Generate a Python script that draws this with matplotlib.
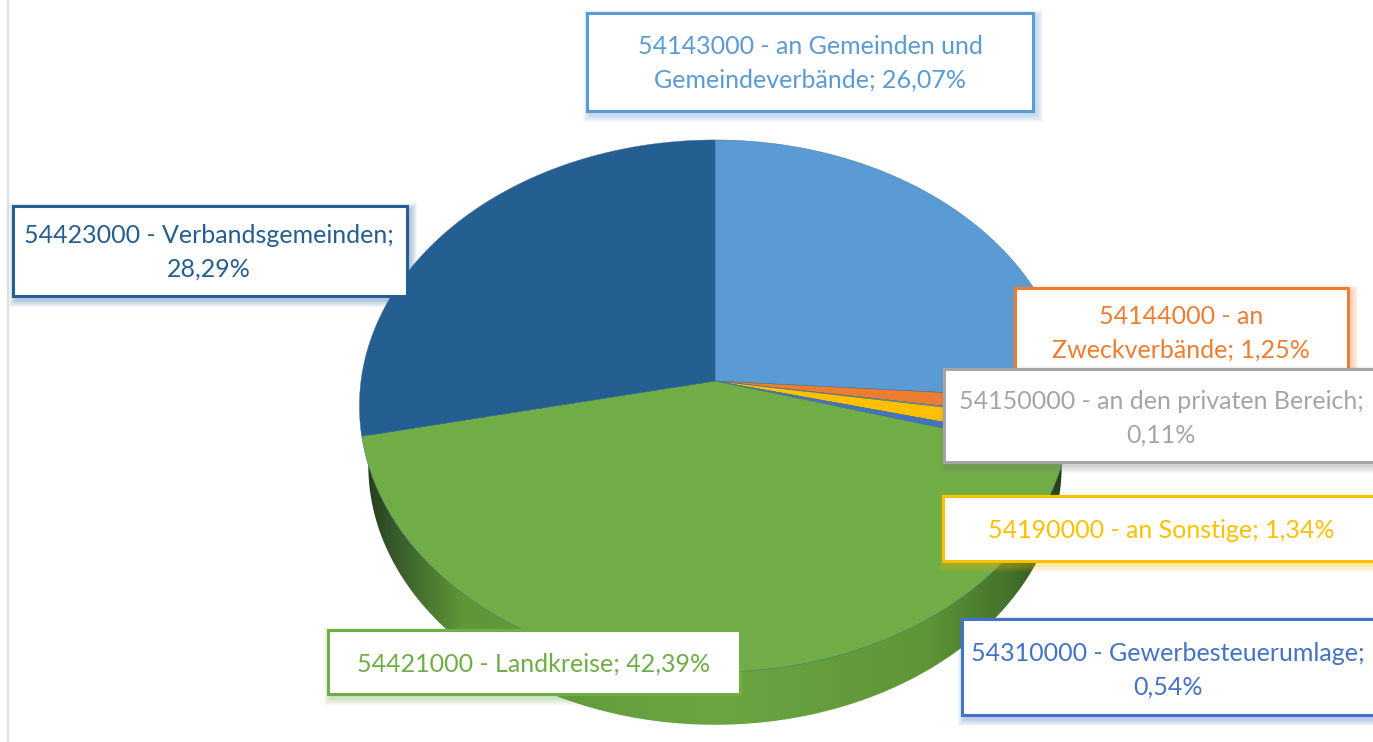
#!/usr/bin/env python3
# 3D looking pie chart with boxed labels, drawn on a pixel sized axes
import numpy as np
import matplotlib
matplotlib.use("Agg")
import matplotlib.pyplot as plt
from matplotlib.patches import Polygon, Rectangle
from matplotlib.colors import LinearSegmentedColormap

plt.rcParams['font.family'] = ['Lato', 'DejaVu Sans']

names = ["54143000 - an Gemeinden und\nGemeindeverbände", "54144000 - an\nZweckverbände",
         "54150000 - an den privaten Bereich", "54190000 - an Sonstige",
         "54310000 - Gewerbesteuerumlage", "54421000 - Landkreise", "54423000 - Verbandsgemeinden"]
values = [26.07, 1.25, 0.11, 1.34, 0.54, 42.39, 28.29]
seps = ["; ", "; ", ";\n", "; ", ";\n", "; ", ";\n"]
colors = ["#5B9BD5", "#ED7D31", "#A5A5A5", "#FFC000", "#4472C4", "#70AD47", "#255E91"]

# label boxes x0,y0,x1,y1 in pixels, and text centre
boxes = [(587, 13, 1033, 111), (1015, 288, 1348, 380), (944, 369, 1380, 462), (943, 496, 1380, 561),
         (962, 619, 1380, 715), (328, 630, 740, 694), (13, 206, 407, 296)]
text_pos = [(810, 63.5), (1181, 333.5), (1161, 418.5), (1161, 531), (1168, 670.5), (534, 664), (209, 252.5)]
draw_order = [0, 1, 2, 3, 4, 6, 5]

# perspective of the pie disc
cx, cy = 715, 381
rx, ry, persp = 354, 263.7, 0.094
depth, bottom_scale = 60, 0.975


def project(angle, radius=1.0, scale=1.0, dy=0.0):
    # angle in degrees clockwise from 12 o'clock
    a = np.radians(angle)
    u, v = radius*np.sin(a), radius*np.cos(a)
    w = 1+persp*v
    return np.column_stack((cx+scale*rx*u/w, cy-scale*ry*v/w+dy))


fig = plt.figure(figsize=(13.73, 7.42), dpi=100)
ax = fig.add_axes([0, 0, 1, 1])
ax.set_xlim(0, 1373)
ax.set_ylim(742, 0)
ax.axis('off')

# grey page rule at the left
ax.plot([8, 8], [0, 742], color="#DDDDDD", lw=1.6, zorder=1)

# side of the pie: horizontal gradient clipped to the lower disc
side_cmap = LinearSegmentedColormap.from_list("side", [
    (0.0, "#22391A"), (0.04, "#35572A"), (0.14, "#5F9638"), (0.5, "#6BA541"),
    (0.80, "#5F9638"), (0.92, "#44722C"), (1.0, "#22391A")])
full = np.linspace(0, 360, 721)
bottom = Polygon(project(full, scale=bottom_scale, dy=depth), closed=True, fc='none', ec='none')
ax.add_patch(bottom)
grad = ax.imshow(np.linspace(0, 1, 256)[None, :], cmap=side_cmap, aspect='auto',
                 extent=(362, 1068, 742, 380), zorder=2)
grad.set_clip_path(bottom)
ax.set_xlim(0, 1373)
ax.set_ylim(742, 0)

# top of the pie
start = 0.0
total = sum(values)
for val, col in zip(values, colors):
    stop = start+360*val/total
    arc = project(np.linspace(start, stop, max(int(val*8), 4)))
    ax.add_patch(Polygon(np.vstack(([cx, cy], arc)), closed=True, fc=col, ec="#3F6E8F", lw=0.3,
                         joinstyle='round', zorder=3))
    start = stop

# label boxes
for i in draw_order:
    x0, y0, x1, y1 = boxes[i]
    for grow in range(7, 0, -1):
        ax.add_patch(Rectangle((x0+3-grow, y0+4-grow), x1-x0+2*grow, y1-y0+2*grow,
                               fc=colors[i] if i != 2 else "#808080", ec='none',
                               alpha=0.055, zorder=4+draw_order.index(i)))
    ax.add_patch(Rectangle((x0, y0), x1-x0, y1-y0, fc='white', ec=colors[i], lw=2.2,
                           zorder=4+draw_order.index(i)))
    label = names[i]+seps[i]+("%.2f%%" % values[i]).replace('.', ',')
    ax.text(text_pos[i][0], text_pos[i][1], label, color=colors[i], fontsize=18, ha='center',
            va='center', linespacing=1.53, zorder=4+draw_order.index(i))

plt.savefig("out.png", dpi=100)
